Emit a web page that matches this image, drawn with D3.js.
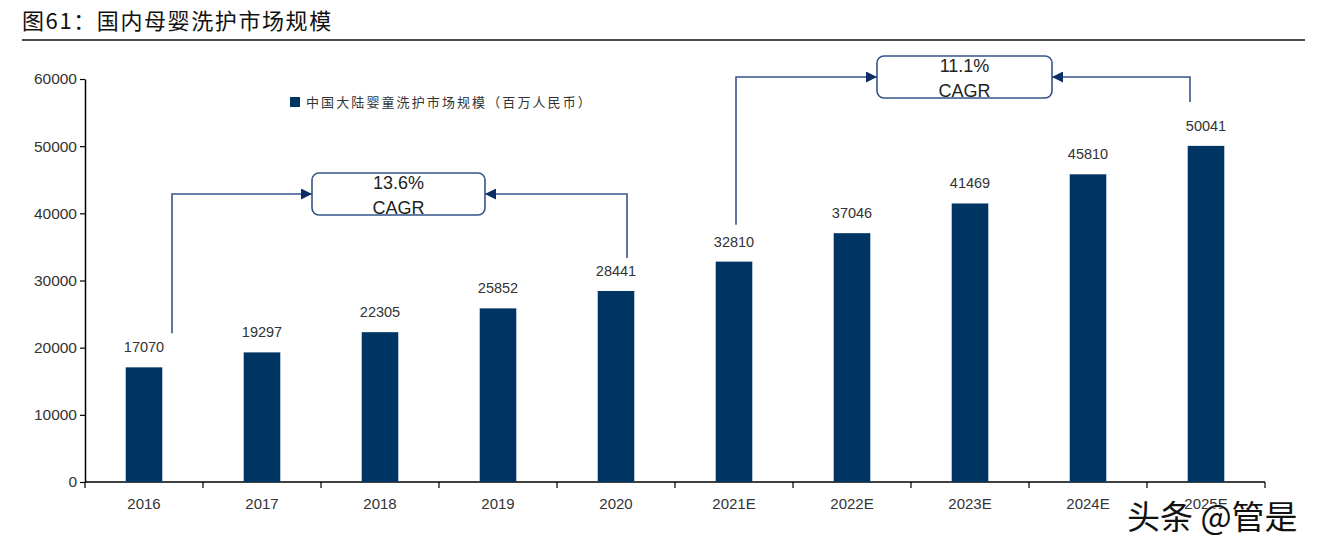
<!DOCTYPE html>
<html><head><meta charset="utf-8">
<script src="https://cdn.jsdelivr.net/npm/d3@7"></script>
<style>body{margin:0;background:#fff}svg{display:block}</style>
</head><body>
<svg id="c" width="1318" height="548"></svg>
<script>
const categories = ["2016","2017","2018","2019","2020","2021E","2022E","2023E","2024E","2025E"];
const values = [17070,19297,22305,25852,28441,32810,37046,41469,45810,50041];
const yTicks = [0,10000,20000,30000,40000,50000,60000];
const seriesName = "中国大陆婴童洗护市场规模（百万人民币）";
const title = "图61：国内母婴洗护市场规模";
const cagrLabels = ["13.6%","11.1%"];
const cagrFrom = ["2016","2021E"];
const cagrTo = ["2020","2025E"];

const svg = d3.select("#c");
const font = "Arial, 'Liberation Sans', sans-serif";
const navy = "#003463";
const lineCol = "#34558a";

const x = d3.scaleBand().domain(categories).range([85,1265]).paddingInner(0.69).paddingOuter(0.345);
const y = d3.scaleLinear().domain([0,60000]).range([482,79]);

// title
svg.append("text").attr("x",22).attr("y",29).attr("font-family","'Noto Sans CJK SC', sans-serif")
  .attr("font-size",22).attr("letter-spacing",1.6).attr("fill","#111").text(title);
svg.append("line").attr("x1",22).attr("x2",1305).attr("y1",40).attr("y2",40).attr("stroke","#111").attr("stroke-width",1.5);

// y axis
const ya = svg.append("g").attr("transform","translate(85,0)")
  .call(d3.axisLeft(y).tickValues(yTicks).tickSize(5).tickSizeOuter(0).tickFormat(d3.format("d")));
ya.select(".domain").attr("stroke","#000").attr("stroke-width",1.5);
ya.selectAll(".tick line").attr("stroke","#000").attr("stroke-width",1.2);
ya.selectAll("text").attr("font-family",font).attr("font-size",15.5).attr("fill","#333").attr("x",-8);

// x axis
const step = x.step();
const xa = svg.append("g").attr("transform","translate(0,482)");
xa.append("line").attr("x1",85).attr("x2",1265).attr("stroke","#000").attr("stroke-width",1.5);
const bounds = categories.map(c=>x(c) - (step - x.bandwidth())/2);
bounds.push(x(categories[categories.length-1]) + x.bandwidth() + (step - x.bandwidth())/2);
xa.selectAll("line.t").data(bounds).join("line").attr("class","t")
  .attr("x1",d=>d).attr("x2",d=>d).attr("y1",0).attr("y2",6).attr("stroke","#000").attr("stroke-width",1.2);
xa.selectAll("text").data(categories).join("text")
  .attr("x",d=>x(d)+x.bandwidth()/2).attr("y",27).attr("text-anchor","middle")
  .attr("font-family",font).attr("font-size",15).attr("fill","#333").text(d=>d);

// bars
svg.selectAll("rect.bar").data(values).join("rect").attr("class","bar")
  .attr("x",(d,i)=>x(categories[i])).attr("width",x.bandwidth())
  .attr("y",d=>y(d)).attr("height",d=>y(0)-y(d)).attr("fill",navy);
svg.selectAll("text.val").data(values).join("text").attr("class","val")
  .attr("x",(d,i)=>x(categories[i])+x.bandwidth()/2).attr("y",d=>y(d)-15)
  .attr("text-anchor","middle").attr("font-family",font).attr("font-size",14.5).attr("fill","#333").text(d=>d);

// legend
svg.append("rect").attr("x",290).attr("y",97).attr("width",10).attr("height",10).attr("fill",navy);
svg.append("text").attr("x",306).attr("y",107).attr("font-family","'Noto Sans CJK SC', sans-serif")
  .attr("font-size",13).attr("letter-spacing",2.1).attr("fill","#333").text(seriesName);

// arrow marker
svg.append("defs").append("marker").attr("id","arr").attr("viewBox","0 0 10 10").attr("refX",10).attr("refY",5)
  .attr("markerWidth",11).attr("markerHeight",11).attr("markerUnits","userSpaceOnUse").attr("orient","auto")
  .append("path").attr("d","M0,0L10,5L0,10Z").attr("fill","#0d2d66");

// CAGR brackets
const cx = c => x(c)+x.bandwidth()/2;
const brackets = [
  {lbl:cagrLabels[0], x0:cx(cagrFrom[0])+28, x1:cx(cagrTo[0])+11, yb0:y(values[0])-34, yb1:y(values[4])-33, box:[312,485,173,215]},
  {lbl:cagrLabels[1], x0:cx(cagrFrom[1])+2, x1:cx(cagrTo[1])-16, yb0:y(values[5])-37, yb1:y(values[9])-44, box:[877,1052,56,98]}
];
brackets.forEach(b=>{
  const [bx0,bx1,by0,by1] = b.box;
  const my = (by0+by1)/2;
  svg.append("path").attr("d",`M${b.x0},${b.yb0}V${my}H${bx0}`).attr("fill","none")
    .attr("stroke",lineCol).attr("stroke-width",1.6).attr("marker-end","url(#arr)");
  svg.append("path").attr("d",`M${b.x1},${b.yb1}V${my}H${bx1}`).attr("fill","none")
    .attr("stroke",lineCol).attr("stroke-width",1.6).attr("marker-end","url(#arr)");
  svg.append("rect").attr("x",bx0).attr("y",by0).attr("width",bx1-bx0).attr("height",by1-by0)
    .attr("rx",7).attr("fill","#fff").attr("stroke",lineCol).attr("stroke-width",1.6);
  svg.append("text").attr("x",(bx0+bx1)/2).attr("y",by0+16).attr("text-anchor","middle")
    .attr("font-family",font).attr("font-size",18).attr("fill","#222").text(b.lbl);
  svg.append("text").attr("x",(bx0+bx1)/2).attr("y",by0+41).attr("text-anchor","middle")
    .attr("font-family",font).attr("font-size",18).attr("fill","#222").text("CAGR");
});

// watermark
svg.append("text").attr("x",1127).attr("y",529).attr("font-family","'Noto Sans CJK SC', sans-serif")
  .attr("font-size",33).attr("fill","#111").attr("stroke","#fff").attr("stroke-width",1).attr("paint-order","stroke")
  .text("头条 @管是");
</script>
</body></html>
